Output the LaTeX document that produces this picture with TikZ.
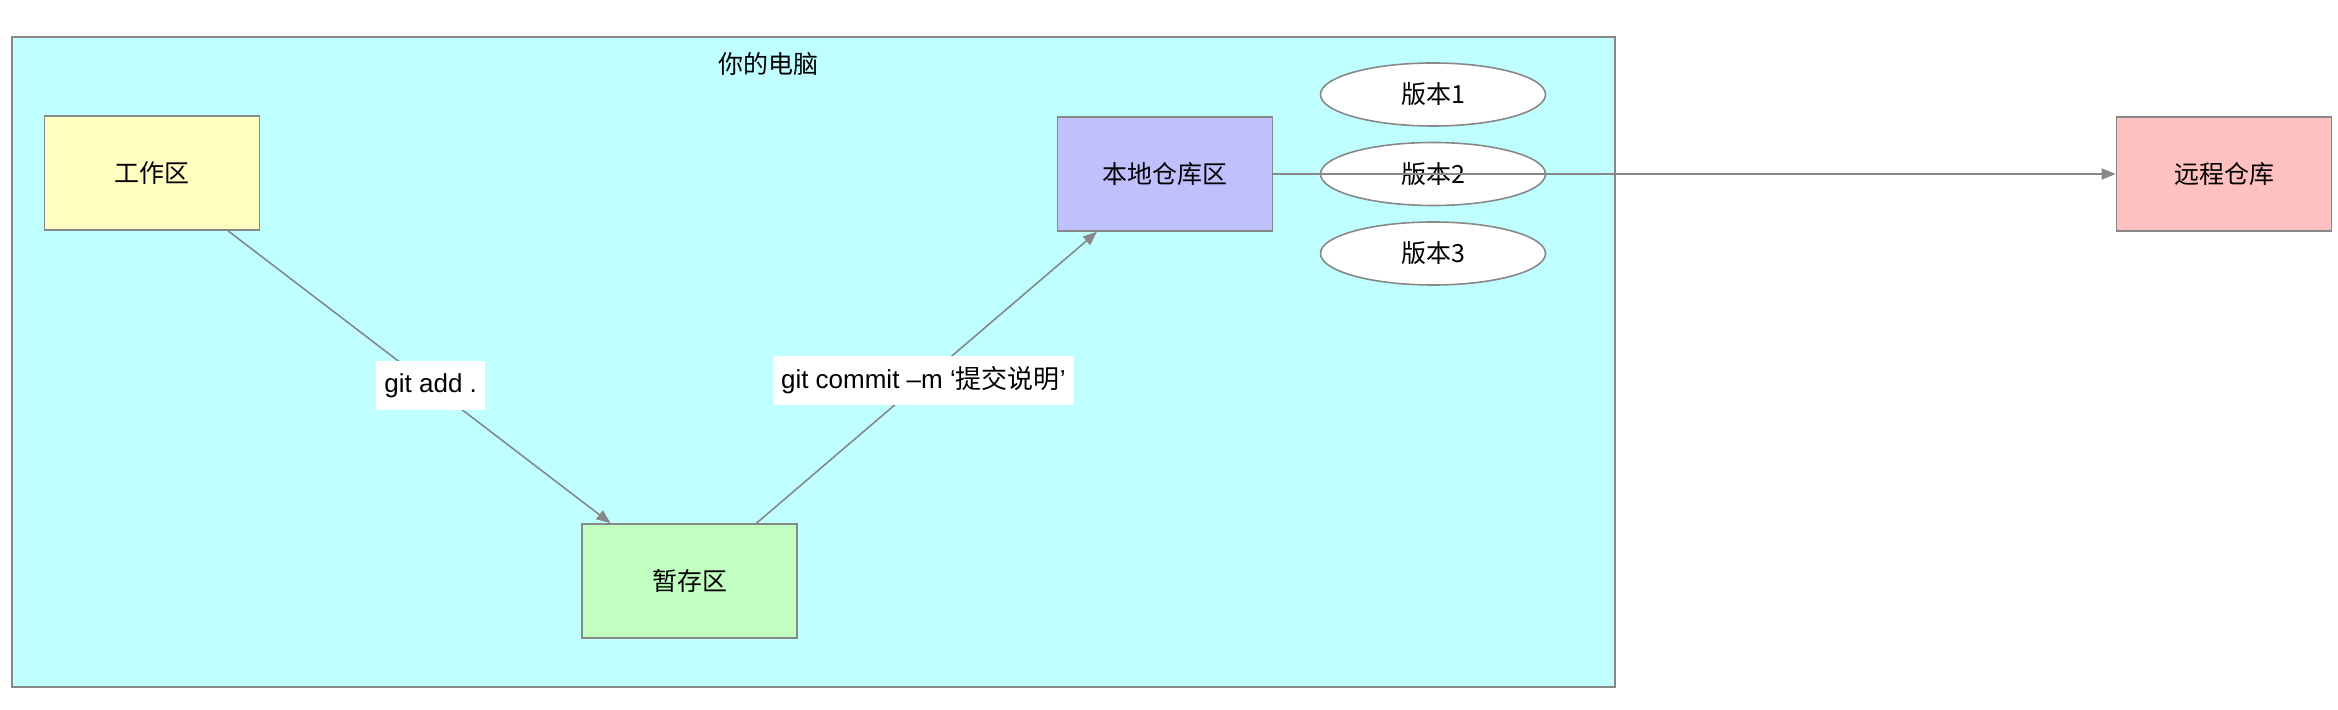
\documentclass[tikz,border=0pt]{standalone}
\usepackage{fontspec}
\setmainfont{Liberation Sans}
\newfontfamily\cjk{Noto Sans CJK SC}
\usetikzlibrary{arrows.meta,shapes.geometric}
\definecolor{bordergray}{RGB}{136,136,136}
\definecolor{pccyan}{RGB}{191,255,255}
\definecolor{workyellow}{RGB}{255,255,192}
\definecolor{stagegreen}{RGB}{192,255,192}
\definecolor{localblue}{RGB}{192,192,255}
\definecolor{remotepink}{RGB}{255,192,192}
\tikzset{
  areabox/.style={draw=bordergray, line width=0.8pt, minimum width=107.5pt, minimum height=57pt, inner sep=0pt, font=\fontsize{12.5}{14}\cjk},
  verell/.style={ellipse, draw=bordergray, line width=0.8pt, fill=white, minimum width=112.5pt, minimum height=31.5pt, inner sep=0pt, font=\fontsize{12.5}{14}\cjk},
  conn/.style={draw=bordergray, line width=0.8pt, -{Triangle[length=7pt,width=5.5pt]}},
  edgelabel/.style={fill=white, inner xsep=4pt, inner ysep=0pt, minimum height=24.5pt, font=\fontsize{13}{15}\selectfont, text=black}
}
\begin{document}
\begin{tikzpicture}[x=0.5pt,y=-0.5pt]
\useasboundingbox (0,0) rectangle (2338,710);
\fill[white] (0,0) rectangle (2338,710);
% outer container
\node[draw=bordergray, line width=0.8pt, fill=pccyan, minimum width=801.5pt, minimum height=325pt, inner sep=0pt] (pc) at (813.5,362) {};
\node[font=\fontsize{12.5}{14}\cjk] (pctitle) at (768,64) {你的电脑};
% nodes
\node[areabox, fill=workyellow] (work) at (152,173) {工作区};
\node[areabox, fill=stagegreen] (stage) at (689.5,581) {暂存区};
\node[areabox, fill=localblue] (local) at (1165,174) {本地仓库区};
\node[areabox, fill=remotepink] (remote) at (2224,174) {远程仓库};
\node[verell] (v1) at (1433,94.5) {版本1};
\node[verell] (v2) at (1433,174) {版本2};
\node[verell] (v3) at (1433,253.5) {版本3};
% connectors
\draw[conn] ([xshift=38pt]work.south) -- node[edgelabel, pos=0.53] (addlbl) {git add .} ([xshift=-39.5pt]stage.north);
\draw[conn] ([xshift=33.5pt]stage.north) -- node[edgelabel, pos=0.49] (commitlbl) {git commit –m ‘{\cjk 提交说明}’} ([xshift=-34pt]local.south);
\draw[conn] (local.east) -- (remote.west);
\end{tikzpicture}
\end{document}
